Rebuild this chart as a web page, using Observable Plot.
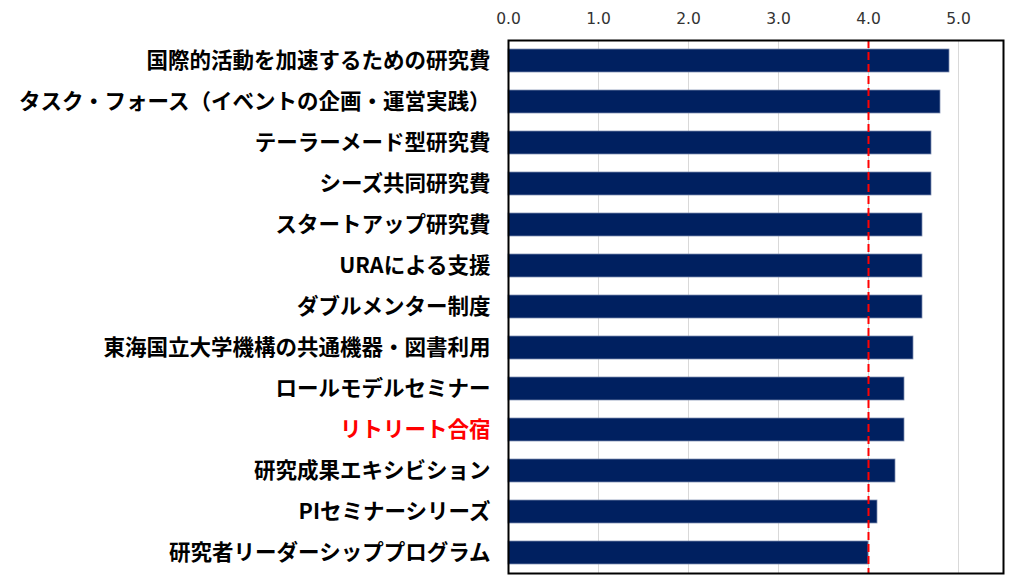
<!DOCTYPE html>
<html>
<head>
<meta charset="utf-8">
<script src="https://cdn.jsdelivr.net/npm/d3@7"></script>
<script src="https://cdn.jsdelivr.net/npm/@observablehq/plot@0.6"></script>
<style>
  html, body { margin: 0; padding: 0; background: #fff; }
</style>
</head>
<body>
<div id="chart"></div>
<script>
const categories = [
  "国際的活動を加速するための研究費",
  "タスク・フォース（イベントの企画・運営実践）",
  "テーラーメード型研究費",
  "シーズ共同研究費",
  "スタートアップ研究費",
  "URAによる支援",
  "ダブルメンター制度",
  "東海国立大学機構の共通機器・図書利用",
  "ロールモデルセミナー",
  "リトリート合宿",
  "研究成果エキシビション",
  "PIセミナーシリーズ",
  "研究者リーダーシッププログラム"
];
const values = [4.9, 4.8, 4.7, 4.7, 4.6, 4.6, 4.6, 4.5, 4.4, 4.4, 4.3, 4.1, 4.0];
const xTicks = [0, 1, 2, 3, 4, 5];
const threshold = [4.0];
const highlighted = "リトリート合宿";

const data = categories.map((c, i) => ({category: c, value: values[i]}));

const chart = Plot.plot({
  width: 1024,
  height: 581,
  marginLeft: 508,
  marginRight: 21,
  marginTop: 40,
  marginBottom: 8,
  style: {fontFamily: "'Noto Sans CJK JP', sans-serif", background: "white", color: "black"},
  x: {domain: [0, 5.5], axis: null},
  y: {domain: categories, axis: null, paddingInner: 0.43, paddingOuter: 0.215},
  marks: [
    Plot.gridX(xTicks, {stroke: "#d9d9d9", strokeOpacity: 1, strokeWidth: 1}),
    Plot.text(xTicks, {
      x: d => d, frameAnchor: "top", lineAnchor: "bottom", dy: -17,
      text: d => d.toFixed(1),
      fontSize: 15.5, fontFamily: "DejaVu Sans", fill: "#333333"
    }),
    Plot.axisY({
      tickSize: 0, tickPadding: 18, label: null,
      fontSize: 21.5, fontWeight: "bold",
      fill: d => d === highlighted ? "#ff0000" : "#000000"
    }),
    Plot.barX(data, {x: "value", y: "category", fill: "#002060", stroke: "#7d8db0", strokeWidth: 0.75}),
    Plot.ruleX(threshold, {stroke: "#ff0000", strokeWidth: 2, strokeDasharray: "8,4"}),
    Plot.frame({stroke: "#000", strokeWidth: 2})
  ]
});
document.getElementById("chart").appendChild(chart);
</script>
</body>
</html>
